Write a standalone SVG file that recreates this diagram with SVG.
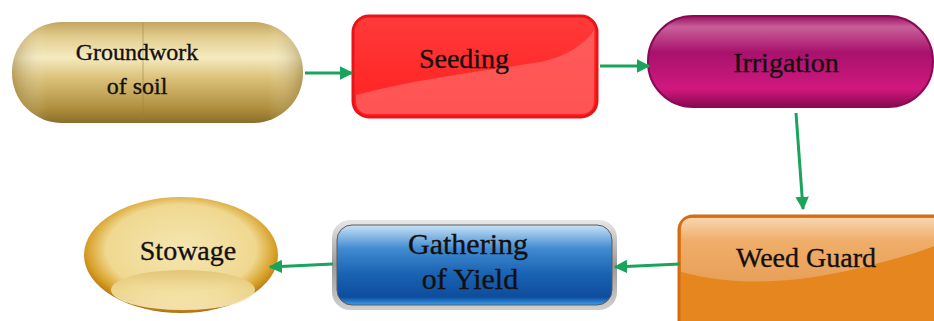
<svg xmlns="http://www.w3.org/2000/svg" width="934" height="321" viewBox="0 0 934 321">
<style>
.lbl{font-family:"Liberation Serif","Times New Roman",serif;fill:#141010;stroke:#141010;stroke-width:0.35;text-anchor:middle}
.conn{stroke:#1aa35a;stroke-width:3;fill:none}
</style>
<defs>
<marker id="ah" viewBox="0 0 10 10" refX="9" refY="5" markerWidth="4.5" markerHeight="4.5" orient="auto" markerUnits="strokeWidth">
<path d="M0,0 L10,5 L0,10 z" fill="#1aa35a"/>
</marker>
<linearGradient id="gold" x1="0" y1="0" x2="0" y2="1">
<stop offset="0" stop-color="#c2a560"/>
<stop offset="0.15" stop-color="#e2cd8e"/>
<stop offset="0.35" stop-color="#f5ebc0"/>
<stop offset="0.55" stop-color="#dcc27a"/>
<stop offset="0.85" stop-color="#b0903e"/>
<stop offset="1" stop-color="#8a6e2c"/>
</linearGradient>
<linearGradient id="goldH" x1="0" y1="0" x2="1" y2="0">
<stop offset="0" stop-color="#7a5e20" stop-opacity="0.4"/>
<stop offset="0.12" stop-color="#ffffff" stop-opacity="0"/>
<stop offset="0.88" stop-color="#ffffff" stop-opacity="0"/>
<stop offset="1" stop-color="#7a5e20" stop-opacity="0.4"/>
</linearGradient>
<linearGradient id="red" x1="0" y1="0" x2="0" y2="1">
<stop offset="0" stop-color="#ff3a3a"/>
<stop offset="1" stop-color="#ff2020"/>
</linearGradient>
<linearGradient id="mag" x1="0" y1="0" x2="0" y2="1">
<stop offset="0" stop-color="#9a0e5e"/>
<stop offset="0.12" stop-color="#c8609a"/>
<stop offset="0.4" stop-color="#a8126c"/>
<stop offset="0.8" stop-color="#d0187f"/>
<stop offset="1" stop-color="#8a0850"/>
</linearGradient>
<linearGradient id="blue" x1="0" y1="0" x2="0" y2="1">
<stop offset="0" stop-color="#c8e2f6"/>
<stop offset="0.3" stop-color="#3f8ad0"/>
<stop offset="0.6" stop-color="#1a64b4"/>
<stop offset="0.9" stop-color="#0e4c9c"/>
<stop offset="1" stop-color="#3aa0f0"/>
</linearGradient>
<linearGradient id="frame" x1="0" y1="0" x2="0" y2="1">
<stop offset="0" stop-color="#e8e8e8"/>
<stop offset="0.5" stop-color="#9a9a9a"/>
<stop offset="1" stop-color="#d0d0d0"/>
</linearGradient>
<linearGradient id="orange" x1="0" y1="0" x2="0" y2="1">
<stop offset="0" stop-color="#f8d6b0"/>
<stop offset="0.35" stop-color="#efae6a"/>
<stop offset="1" stop-color="#e8a058"/>
</linearGradient>
<radialGradient id="gel" cx="0.5" cy="0.45" r="0.55">
<stop offset="0" stop-color="#f5e6b2"/>
<stop offset="0.7" stop-color="#efd890"/>
<stop offset="0.88" stop-color="#d8a028"/>
<stop offset="1" stop-color="#b07010"/>
</radialGradient>
<linearGradient id="gelLow" x1="0" y1="0" x2="0" y2="1">
<stop offset="0" stop-color="#e0c070"/>
<stop offset="0.5" stop-color="#f2e0a0"/>
<stop offset="1" stop-color="#fbf0c8"/>
</linearGradient>
</defs>

<g id="groundwork">
<rect x="12" y="22" width="291" height="101" rx="50" fill="url(#gold)"/>
<rect x="12" y="22" width="291" height="101" rx="50" fill="url(#goldH)"/>
<line x1="143" y1="23" x2="143" y2="122" stroke="#9a7c38" stroke-opacity="0.35" stroke-width="1.5"/>
<text class="lbl" x="137" y="60" font-size="24">Groundwork</text>
<text class="lbl" x="137" y="94" font-size="24">of soil</text>
</g>

<g id="seeding">
<rect x="353" y="16" width="244" height="101" rx="16" fill="url(#red)" stroke="#e8141a" stroke-width="3"/>
<path d="M356,95 C420,78 480,72 540,62 C570,56 588,40 594,30 L594,100 Q594,114 580,114 L370,114 Q356,114 356,100 z" fill="#ff6a6a" opacity="0.7"/>
<text class="lbl" x="464" y="68" font-size="28">Seeding</text>
</g>

<g id="irrigation">
<rect x="648" y="16" width="285" height="91" rx="45" fill="url(#mag)" stroke="#8a0a55" stroke-width="2"/>
<text class="lbl" x="786" y="72" font-size="28">Irrigation</text>
</g>

<g id="weedguard">
<rect x="679" y="216" width="270" height="120" rx="14" fill="#e5861e" stroke="#d86a10" stroke-width="3"/>
<path d="M681,272 C740,288 800,282 860,268 C900,258 925,250 934,246 L934,218 L692,218 Q681,218 681,230 z" fill="url(#orange)"/>
<text class="lbl" x="806" y="267" font-size="28">Weed Guard</text>
</g>

<g id="gathering">
<rect x="332" y="220" width="285" height="90" rx="18" fill="url(#frame)"/>
<rect x="337" y="225" width="275" height="80" rx="15" fill="url(#blue)" stroke="#5a5a5a" stroke-width="1"/>
<text class="lbl" x="468" y="254" font-size="30">Gathering</text>
<text class="lbl" x="470" y="289" font-size="30">of Yield</text>
</g>

<g id="stowage">
<ellipse cx="181" cy="255" rx="97" ry="58" fill="url(#gel)"/>
<ellipse cx="183" cy="290" rx="72" ry="20" fill="url(#gelLow)" opacity="0.85"/>
<text class="lbl" x="188" y="260" font-size="28">Stowage</text>
</g>

<g id="connectors">
<line class="conn" x1="305" y1="73" x2="352" y2="73" marker-end="url(#ah)"/>
<line class="conn" x1="600" y1="66" x2="649" y2="66" marker-end="url(#ah)"/>
<line class="conn" x1="796" y1="113" x2="803" y2="209" marker-end="url(#ah)"/>
<line class="conn" x1="680" y1="264" x2="615" y2="267" marker-end="url(#ah)"/>
<line class="conn" x1="333" y1="264" x2="270" y2="267" marker-end="url(#ah)"/>
</g>
</svg>
